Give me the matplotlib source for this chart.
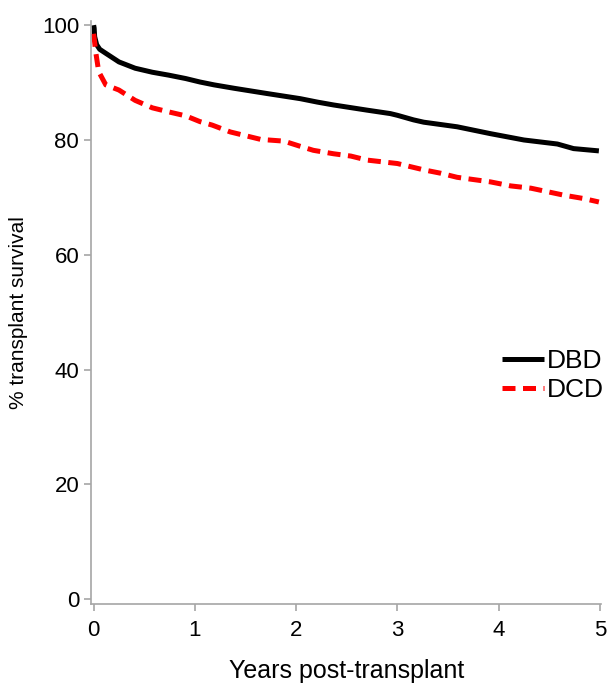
import numpy as np
import matplotlib.pyplot as plt

plt.rcParams['font.family'] = ['Liberation Sans', 'DejaVu Sans']

# Kaplan-Meier survival (years, % surviving)
dbd_years = [0, 0.005, 0.01, 0.03, 0.06, 0.12, 0.25, 0.41, 0.58, 0.74, 0.91, 1.05, 1.19,
             1.39, 1.71, 2.04, 2.21, 2.37, 2.70, 2.93, 3.00, 3.16, 3.26, 3.59,
             3.92, 4.25, 4.58, 4.74, 4.99]
dbd_surv = [100, 99.5, 98.0, 96.6, 95.8, 95.1, 93.6, 92.5, 91.8, 91.3, 90.7, 90.1, 89.6,
            89.0, 88.1, 87.2, 86.6, 86.1, 85.2, 84.6, 84.3, 83.5, 83.1, 82.3,
            81.1, 80.0, 79.3, 78.5, 78.1]

dcd_years = [0, 0.01, 0.02, 0.05, 0.12, 0.25, 0.41, 0.58, 0.74, 0.91, 1.05, 1.17,
             1.35, 1.65, 1.88, 2.04, 2.17, 2.37, 2.54, 2.70, 3.00, 3.26, 3.43,
             3.59, 3.92, 4.12, 4.32, 4.48, 4.64, 4.84, 4.99]
dcd_surv = [98.5, 97.0, 95.4, 91.9, 89.6, 88.7, 86.9, 85.6, 84.9, 84.2, 83.2, 82.6,
            81.4, 80.1, 79.8, 78.9, 78.2, 77.6, 77.2, 76.5, 75.9, 74.8, 74.2,
            73.5, 72.7, 72.0, 71.6, 71.0, 70.4, 69.8, 69.2]

x_ticks = [0, 1, 2, 3, 4, 5]
y_ticks = [0, 20, 40, 60, 80, 100]

fig = plt.figure(figsize=(6.12, 6.86), dpi=100)
ax = fig.add_axes([0.1487, 0.12, 0.834, 0.85])

ax.plot(dbd_years, dbd_surv, color='black', lw=3.6, label='DBD',
        solid_capstyle='butt', solid_joinstyle='round')
ax.plot(dcd_years, dcd_surv, color='#ff0000', lw=3.6,
        dashes=(2.6, 1.5), label='DCD')

ax.set_xlim(-0.026, 5.015)
ax.set_ylim(-0.77, 100.8)
ax.set_xticks(x_ticks)
ax.set_yticks(y_ticks)

for side in ['top', 'right']:
    ax.spines[side].set_visible(False)
for side in ['left', 'bottom']:
    ax.spines[side].set_color('#a6a6a6')
    ax.spines[side].set_linewidth(1.2)
ax.tick_params(colors='#a6a6a6', labelcolor='black', labelsize=16,
               length=5, width=1.2)
ax.tick_params(axis='x', pad=7)

ax.set_xlabel('Years post-transplant', fontsize=18, labelpad=13)
ax.set_ylabel('% transplant survival', fontsize=15, labelpad=10)

ax.legend(loc='upper left', bbox_to_anchor=(0.785, 0.455), frameon=False,
          fontsize=19, handlelength=1.6, handletextpad=0.1, labelspacing=0.2,
          borderaxespad=0)

fig.savefig('out.png', dpi=100)
